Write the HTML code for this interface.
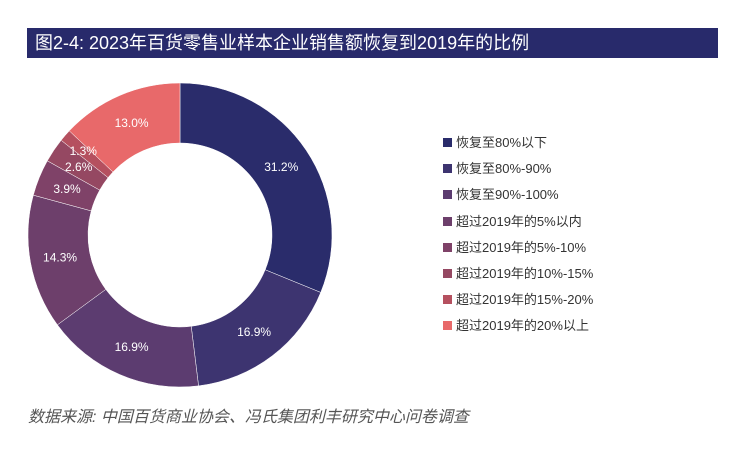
<!DOCTYPE html>
<html><head><meta charset="utf-8"><style>
body{margin:0;width:746px;height:450px;background:#fff;font-family:"Liberation Sans","Noto Sans CJK SC",sans-serif;overflow:hidden;position:relative}
#title{position:absolute;left:27px;top:28px;width:691px;height:30px;background:#282a6b;color:#fff;font-size:18px;line-height:30px;padding-left:8px;box-sizing:border-box}
#src{position:absolute;left:28px;top:403px;font-size:16px;font-style:italic;color:#555}
.leg{position:absolute;left:443px;font-size:13px;color:#333;line-height:16px}
.leg span{display:inline-block;width:9px;height:9px;margin-right:4px;vertical-align:0px}
</style></head><body>
<div id="title">图2-4: 2023年百货零售业样本企业销售额恢复到2019年的比例</div>
<svg id="chart" width="746" height="450" style="position:absolute;left:0;top:0"></svg>
<div id="legend"></div>
<div id="src">数据来源: 中国百货商业协会、冯氏集团利丰研究中心问卷调查</div>
<script>
const categories=["恢复至80%以下","恢复至80%-90%","恢复至90%-100%","超过2019年的5%以内","超过2019年的5%-10%","超过2019年的10%-15%","超过2019年的15%-20%","超过2019年的20%以上"];
const values=[31.2,16.9,16.9,14.3,3.9,2.6,1.3,13.0];
const labels=["31.2%","16.9%","16.9%","14.3%","3.9%","2.6%","1.3%","13.0%"];
const colors=["#2a2c6b","#3d3470","#5c3c70","#6d3f6b","#7f4268","#954862","#b5505f","#e8696a"];
const cx=180,cy=235,R=152,r=92;
const svg=document.getElementById('chart');const ns="http://www.w3.org/2000/svg";
const total=values.reduce((a,b)=>a+b,0);
function pt(rad,ang){return [cx+rad*Math.sin(ang),cy-rad*Math.cos(ang)];}
const gS=document.createElementNS(ns,'g');svg.appendChild(gS);
const gL=document.createElementNS(ns,'g');svg.appendChild(gL);
let a0=0;
values.forEach((v,i)=>{
const a1=a0+v/total*2*Math.PI;
const [x1,y1]=pt(R,a0),[x2,y2]=pt(R,a1),[x3,y3]=pt(r,a1),[x4,y4]=pt(r,a0);
const lg=(a1-a0)>Math.PI?1:0;
const p=document.createElementNS(ns,'path');
p.setAttribute('d',`M${x1},${y1}A${R},${R} 0 ${lg} 1 ${x2},${y2}L${x3},${y3}A${r},${r} 0 ${lg} 0 ${x4},${y4}Z`);
p.setAttribute('fill',colors[i]);p.setAttribute('stroke','#fff');p.setAttribute('stroke-width','0.5');


gS.appendChild(p);
const m=(a0+a1)/2;const small=v<2;const [lx,ly]=pt(small?128:(R+r)/2,m);
const t=document.createElementNS(ns,'text');
t.setAttribute('x',lx);t.setAttribute('y',ly+4);t.setAttribute('text-anchor','middle');
t.setAttribute('fill','#fff');t.setAttribute('font-size','12');
t.textContent=labels[i];


gL.appendChild(t);
a0=a1;});
const lg=document.getElementById('legend');
categories.forEach((c,i)=>{
const d=document.createElement('div');d.className='leg';d.style.top=(135+i*26.2)+'px';
d.innerHTML='<span style="background:'+colors[i]+'"></span>'+c;


lg.appendChild(d);});
</script>
</body></html>
